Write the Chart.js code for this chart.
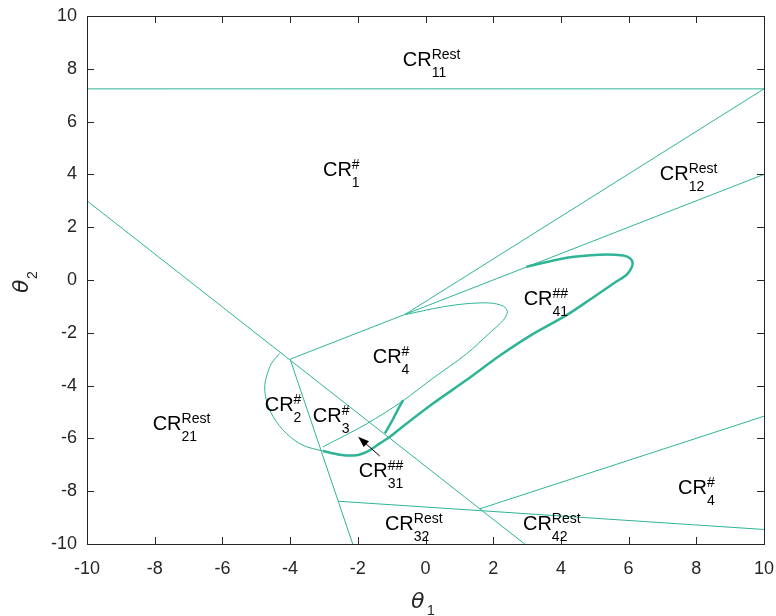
<!DOCTYPE html>
<html>
<head>
<meta charset="utf-8">
<script src="https://cdn.jsdelivr.net/npm/chart.js@4.4.0/dist/chart.umd.min.js"></script>
<style>
  html, body { margin: 0; padding: 0; background: #fff; }
  #wrap { width: 776px; height: 616px; }
</style>
</head>
<body>
<div id="wrap"><canvas id="chart" width="776" height="616"></canvas></div>
<script>
const tickValues = [-10, -8, -6, -4, -2, 0, 2, 4, 6, 8, 10];

// straight boundaries (theta1, theta2)
const lineTop = [{x: -10, y: 7.24}, {x: 10, y: 7.24}];
const lineDiag = [{x: -10, y: 3}, {x: 2.93, y: -10}];
const lineFanLow = [{x: -4, y: -3}, {x: 10, y: 4}];
const lineFanHigh = [{x: -0.6, y: -1.3}, {x: 10, y: 7.24}];
const lineSteep = [{x: -4, y: -3}, {x: -2.15, y: -10}];
const lineBottomA = [{x: -2.58, y: -8.38}, {x: 10, y: -9.45}];
const lineBottomB = [{x: 1.6, y: -8.67}, {x: 10, y: -5.16}];

// curved boundaries
const arcLeft = [
  {x: -4.31, y: -2.78}, {x: -4.55, y: -3.16}, {x: -4.70, y: -3.67}, {x: -4.75, y: -4.05},
  {x: -4.70, y: -4.55}, {x: -4.50, y: -5.18}, {x: -4.11, y: -5.81}, {x: -3.62, y: -6.26},
  {x: -3.03, y: -6.48}
];
const innerLoop = [
  {x: -3.03, y: -6.32}, {x: -1.74, y: -5.45}, {x: -0.66, y: -4.57}, {x: 0.22, y: -3.72},
  {x: 1.21, y: -2.8}, {x: 1.9, y: -2.0}, {x: 2.3, y: -1.52}, {x: 2.42, y: -1.2},
  {x: 2.3, y: -0.99}, {x: 1.9, y: -0.87}, {x: 1.2, y: -0.9}, {x: 0.5, y: -1.02},
  {x: -0.6, y: -1.31}
];
const thickLoop = [
  {x: -3.03, y: -6.48}, {x: -2.53, y: -6.62}, {x: -2.04, y: -6.64}, {x: -1.65, y: -6.45},
  {x: -1.35, y: -6.19}, {x: -1.05, y: -5.94}, {x: -0.76, y: -5.64}, {x: 0.22, y: -4.68},
  {x: 1.21, y: -3.79}, {x: 2.20, y: -2.86}, {x: 3.18, y: -2.04}, {x: 4.17, y: -1.33},
  {x: 4.95, y: -0.66}, {x: 5.64, y: -0.06}, {x: 5.94, y: 0.2}, {x: 6.08, y: 0.45},
  {x: 6.12, y: 0.65}, {x: 6.04, y: 0.82}, {x: 5.84, y: 0.93}, {x: 5.15, y: 0.96},
  {x: 4.17, y: 0.84}, {x: 2.98, y: 0.50}
];
const thickSpur = [{x: -0.66, y: -4.55}, {x: -0.82, y: -4.92}, {x: -0.98, y: -5.32}, {x: -1.2, y: -5.81}];

// region labels
const regionSup = ['Rest', '#', 'Rest', '##', '#', '#', '#', 'Rest', '##', '#', 'Rest', 'Rest'];
const regionSub = ['11', '1', '12', '41', '4', '2', '3', '21', '31', '4', '32', '42'];
const regionX = [-0.67, -3.03, 6.92, 2.90, -1.56, -4.75, -3.33, -8.06, -1.97, 7.46, -1.20, 2.88];
const regionY = [8.12, 3.94, 3.79, -0.95, -3.15, -4.97, -5.38, -5.69, -7.47, -8.12, -9.47, -9.47];

const arrowFrom = {x: -1.35, y: -6.67};
const arrowTo = {x: -1.99, y: -5.94};

const teal = '#2fb496';

function ds(points, width, tension) {
  return {
    data: points,
    showLine: true,
    borderColor: teal,
    borderWidth: width,
    pointRadius: 0,
    tension: tension,
    fill: false
  };
}

const framePlugin = {
  id: 'frame',
  afterDraw(chart) {
    const ctx = chart.ctx;
    const a = chart.chartArea;
    const xs = chart.scales.x, ys = chart.scales.y;
    ctx.save();
    // ticks pointing inward on all four sides
    ctx.strokeStyle = '#262626';
    ctx.lineWidth = 1;
    ctx.beginPath();
    tickValues.forEach(v => {
      const px = Math.round(xs.getPixelForValue(v)) + 0.5;
      ctx.moveTo(px, a.bottom); ctx.lineTo(px, a.bottom - 7);
      ctx.moveTo(px, a.top); ctx.lineTo(px, a.top + 7);
      const py = Math.round(ys.getPixelForValue(v)) + 0.5;
      ctx.moveTo(a.left, py); ctx.lineTo(a.left + 7, py);
      ctx.moveTo(a.right, py); ctx.lineTo(a.right - 7, py);
    });
    ctx.stroke();
    ctx.strokeRect(Math.round(a.left) + 0.5, Math.round(a.top) + 0.5,
      Math.round(a.right - a.left), Math.round(a.bottom - a.top));

    // arrow
    const x1 = xs.getPixelForValue(arrowFrom.x), y1 = ys.getPixelForValue(arrowFrom.y);
    const x2 = xs.getPixelForValue(arrowTo.x), y2 = ys.getPixelForValue(arrowTo.y);
    const ang = Math.atan2(y2 - y1, x2 - x1);
    ctx.strokeStyle = '#000';
    ctx.fillStyle = '#000';
    ctx.beginPath();
    ctx.moveTo(x1, y1);
    ctx.lineTo(x2 - 8 * Math.cos(ang), y2 - 8 * Math.sin(ang));
    ctx.stroke();
    ctx.beginPath();
    ctx.moveTo(x2, y2);
    ctx.lineTo(x2 - 11 * Math.cos(ang) + 4 * Math.sin(ang), y2 - 11 * Math.sin(ang) - 4 * Math.cos(ang));
    ctx.lineTo(x2 - 11 * Math.cos(ang) - 4 * Math.sin(ang), y2 - 11 * Math.sin(ang) + 4 * Math.cos(ang));
    ctx.closePath();
    ctx.fill();

    // region labels
    ctx.textAlign = 'left';
    ctx.textBaseline = 'alphabetic';
    for (let i = 0; i < regionSub.length; i++) {
      const px = xs.getPixelForValue(regionX[i]);
      const py = ys.getPixelForValue(regionY[i]);
      ctx.font = '20px "Liberation Sans", Arial, sans-serif';
      ctx.fillText('CR', px, py);
      const w = ctx.measureText('CR').width;
      ctx.font = '14px "Liberation Sans", Arial, sans-serif';
      ctx.fillText(regionSup[i], px + w, py - 7);
      ctx.fillText(regionSub[i], px + w, py + 11);
    }

    // axis titles
    ctx.fillStyle = '#262626';
    ctx.font = 'italic 22px "DejaVu Sans", sans-serif';
    ctx.fillText('\u03b8', 411, 608);
    ctx.font = '14px "Liberation Sans", Arial, sans-serif';
    ctx.fillText('1', 427, 615);
    ctx.translate(28, 293);
    ctx.rotate(-Math.PI / 2);
    ctx.font = 'italic 22px "DejaVu Sans", sans-serif';
    ctx.fillText('\u03b8', 0, 0);
    ctx.font = '14px "Liberation Sans", Arial, sans-serif';
    ctx.fillText('2', 14, 9);
    ctx.restore();
  }
};

new Chart(document.getElementById('chart'), {
  type: 'scatter',
  data: {
    datasets: [
      ds(lineTop, 1, 0),
      ds(lineDiag, 1, 0),
      ds(lineFanLow, 1, 0),
      ds(lineFanHigh, 1, 0),
      ds(lineSteep, 1, 0),
      ds(lineBottomA, 1, 0),
      ds(lineBottomB, 1, 0),
      ds(arcLeft, 1, 0.35),
      ds(innerLoop, 1, 0.3),
      ds(thickLoop, 2.5, 0.3),
      ds(thickSpur, 2.5, 0.3)
    ]
  },
  options: {
    responsive: false,
    animation: false,
    layout: { padding: { top: 16, right: 12, left: 0, bottom: 0 } },
    plugins: { legend: { display: false }, tooltip: { enabled: false } },
    scales: {
      x: {
        type: 'linear', min: -10, max: 10,
        ticks: { stepSize: 2, autoSkip: false, maxRotation: 0, padding: 14, color: '#262626',
          font: { size: 18, family: '"Liberation Sans", Arial, sans-serif' } },
        grid: { display: false, drawTicks: false },
        border: { display: false },
        afterFit: s => { s.height = 72; s.paddingLeft = 0; s.paddingRight = 0; }
      },
      y: {
        type: 'linear', min: -10, max: 10,
        ticks: { stepSize: 2, autoSkip: false, padding: 10, color: '#262626',
          font: { size: 18, family: '"Liberation Sans", Arial, sans-serif' } },
        grid: { display: false, drawTicks: false },
        border: { display: false },
        afterFit: s => { s.width = 87; s.paddingTop = 0; s.paddingBottom = 0; }
      }
    }
  },
  plugins: [framePlugin]
});
</script>
</body>
</html>
